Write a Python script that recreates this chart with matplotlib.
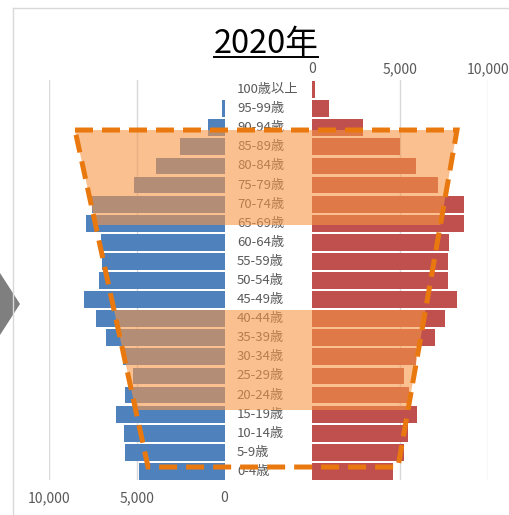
import matplotlib
matplotlib.use("Agg")
import matplotlib.pyplot as plt
import numpy as np
from matplotlib.lines import Line2D
from matplotlib.patches import Polygon, Rectangle

plt.rcParams["font.family"] = ["Noto Sans CJK JP", "DejaVu Sans"]

TITLE = "2020年"

# bottom to top
AGE_GROUPS = [
    "0-4歳", "5-9歳", "10-14歳", "15-19歳", "20-24歳", "25-29歳", "30-34歳",
    "35-39歳", "40-44歳", "45-49歳", "50-54歳", "55-59歳", "60-64歳",
    "65-69歳", "70-74歳", "75-79歳", "80-84歳", "85-89歳", "90-94歳",
    "95-99歳", "100歳以上",
]
MALE = [4860, 5660, 5720, 6180, 5660, 5200, 5780, 6760, 7340, 7980, 7170,
        6990, 7050, 7920, 7570, 5140, 3930, 2540, 920, 120, 5]
FEMALE = [4590, 5210, 5440, 5950, 5490, 5210, 5890, 6960, 7530, 8210, 7700,
          7700, 7760, 8660, 8610, 7130, 5890, 4980, 2890, 960, 170]

TICK_VALUES = [0, 5000, 10000]
TICK_LABELS = ["0", "5,000", "10,000"]

MALE_COLOR = "#4F81BD"
FEMALE_COLOR = "#C0504D"
TEXT_COLOR = "#595959"
GRID_COLOR = "#D9D9D9"
SHADE_COLOR = "#F79646"
DASH_COLOR = "#E9790F"

# half width of the label column, in population units
GAP = 2500

# highlight overlay (data coordinates)
TRAPEZOID = [(-11020, 17.88), (10735, 17.88), (7375, 0.23), (-6860, 0.23)]
SHADE_BANDS = [(12.9, 18.5), (3.21, 8.45)]

W, H, DPI = 509, 515, 100


def main() -> None:
    fig = plt.figure(figsize=(W / DPI, H / DPI), dpi=DPI)
    ax = fig.add_axes([49 / W, 35 / H, 439 / W, 400 / H])

    y = np.arange(len(AGE_GROUPS))
    ax.barh(y, -np.array(MALE), left=-GAP, height=0.88, color=MALE_COLOR, zorder=1)
    ax.barh(y, FEMALE, left=GAP, height=0.88, color=FEMALE_COLOR, zorder=1)

    for yi, label in zip(y, AGE_GROUPS):
        ax.text(-GAP + 700, yi, label, ha="left", va="center",
                fontsize=9.5, color=TEXT_COLOR, zorder=2)

    for t in TICK_VALUES[1:]:
        ax.axvline(-GAP - t, color=GRID_COLOR, lw=1, zorder=0)
        ax.axvline(GAP + t, color=GRID_COLOR, lw=1, zorder=0)

    ax.set_xlim(-GAP - 10000, GAP + 10000)
    ax.set_ylim(-0.45, 20.5)
    ax.set_yticks([])
    ax.set_xticks([-GAP - t for t in TICK_VALUES], TICK_LABELS)
    ax.tick_params(axis="x", length=0, pad=8, labelsize=10, labelcolor=TEXT_COLOR)
    for s in ax.spines.values():
        s.set_visible(False)

    top = ax.secondary_xaxis("top")
    top.set_xticks([GAP + t for t in TICK_VALUES], TICK_LABELS)
    top.tick_params(length=0, pad=3, labelsize=10, labelcolor=TEXT_COLOR)
    for s in top.spines.values():
        s.set_visible(False)

    # highlighted age bands, clipped to the trapezoid
    clip = Polygon(TRAPEZOID, closed=True, facecolor="none", edgecolor="none")
    ax.add_patch(clip)
    for lo, hi in SHADE_BANDS:
        r = Rectangle((-GAP - 11000, lo), 2 * GAP + 22000, hi - lo,
                      facecolor=SHADE_COLOR, alpha=0.6, lw=0, zorder=3)
        ax.add_patch(r)
        r.set_clip_path(clip)

    ax.add_patch(Polygon(TRAPEZOID, closed=True, fill=False, edgecolor=DASH_COLOR,
                         lw=3.6, linestyle=(0, (3.6, 1.8)), zorder=4, clip_on=False))

    # title with underline
    title = fig.text(266 / W, 1 - 53 / H, TITLE, ha="center", va="baseline",
                     fontsize=23.5, color="black")
    fig.canvas.draw()
    bb = title.get_window_extent().transformed(fig.transFigure.inverted())
    fig.add_artist(Line2D([bb.x0, bb.x1], [1 - 57 / H, 1 - 57 / H], color="black", lw=1.4))

    # slide frame and arrow
    fig.add_artist(Line2D([13 / W, 1], [1 - 8 / H, 1 - 8 / H], color=GRID_COLOR, lw=1))
    fig.add_artist(Line2D([13 / W, 13 / W], [0, 1 - 8 / H], color=GRID_COLOR, lw=1))
    fig.add_artist(Polygon([(0, 1 - 273 / H), (20 / W, 1 - 304 / H), (0, 1 - 335 / H)],
                           closed=True, transform=fig.transFigure,
                           facecolor="#7F7F7F", edgecolor="none"))

    fig.savefig("out.png", dpi=DPI)
    plt.close(fig)


if __name__ == "__main__":
    main()
